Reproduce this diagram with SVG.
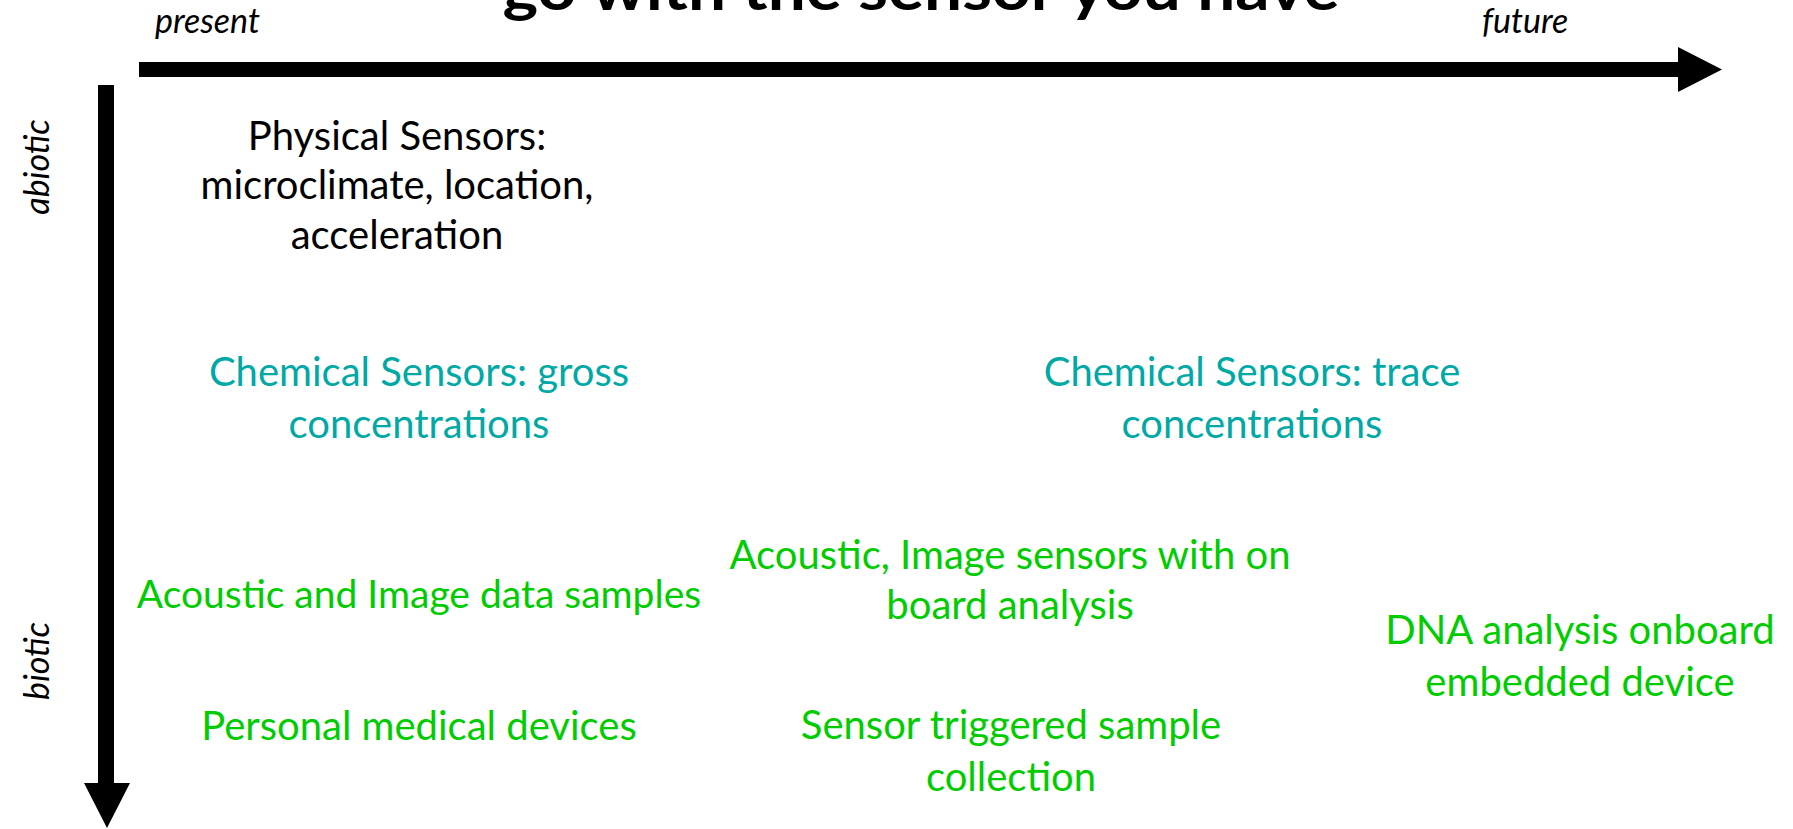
<svg xmlns="http://www.w3.org/2000/svg" width="1793" height="829" viewBox="0 0 1793 829">
<style>
.t{font-family:"Lato","Open Sans",sans-serif;font-size:40px;text-anchor:middle}
.k{fill:#000}
.c{fill:#00a8a6}
.g{fill:#00cc00}
.i{font-family:"Lato","Open Sans",sans-serif;font-style:italic;font-size:34px;fill:#000}
.title{font-family:"Lato","Open Sans",sans-serif;font-weight:bold;font-size:60px;fill:#000;text-anchor:middle}
</style>
<rect width="1793" height="829" fill="#fff"/>
<text class="title" x="921" y="10" textLength="837" lengthAdjust="spacingAndGlyphs">go with the sensor you have</text>
<g id="axes">
<path id="axis-time" d="M139,62 H1678 V47 L1722,69.5 L1678,92 V77 H139 Z" fill="#000"/>
<path id="axis-biotic" d="M98,85 H114 V783 H130 L107,828 L84,783 H98 Z" fill="#000"/>
</g>
<g id="axis-labels">
<text class="i" x="155" y="33">present</text>
<text class="i" x="1482" y="33">future</text>
<text class="i" text-anchor="middle" transform="translate(49,167) rotate(-90)">abiotic</text>
<text class="i" text-anchor="middle" transform="translate(49,661) rotate(-90)">biotic</text>
</g>
<g id="physical">
<text class="t k" x="397" y="150">Physical Sensors:</text>
<text class="t k" x="397" y="199">microclimate, location,</text>
<text class="t k" x="397" y="249">acceleration</text>
</g>
<g id="chem-gross">
<text class="t c" x="419" y="386">Chemical Sensors: gross</text>
<text class="t c" x="419" y="438">concentrations</text>
</g>
<g id="chem-trace">
<text class="t c" x="1252" y="386">Chemical Sensors: trace</text>
<text class="t c" x="1252" y="438">concentrations</text>
</g>
<g id="acoustic-samples">
<text class="t g" x="419" y="608" style="font-size:39px">Acoustic and Image data samples</text>
</g>
<g id="medical">
<text class="t g" x="419" y="740">Personal medical devices</text>
</g>
<g id="acoustic-onboard">
<text class="t g" x="1010" y="569">Acoustic, Image sensors with on</text>
<text class="t g" x="1010" y="619">board analysis</text>
</g>
<g id="triggered">
<text class="t g" x="1011" y="739">Sensor triggered sample</text>
<text class="t g" x="1011" y="791">collection</text>
</g>
<g id="dna">
<text class="t g" x="1580" y="644">DNA analysis onboard</text>
<text class="t g" x="1580" y="696">embedded device</text>
</g>
<g id="connectors"></g>
</svg>
